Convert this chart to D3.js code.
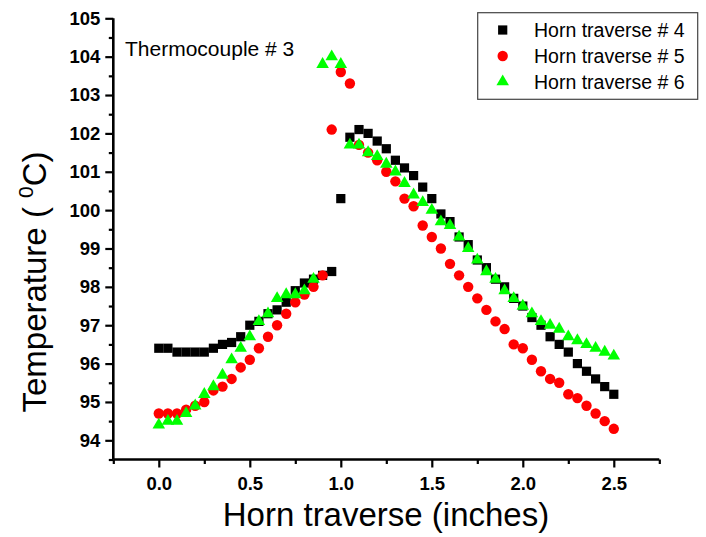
<!DOCTYPE html>
<html>
<head>
<meta charset="utf-8">
<script src="https://cdn.jsdelivr.net/npm/d3@7"></script>
<style>
  html, body { margin: 0; padding: 0; background: #fff; }
  svg { display: block; }
  text { font-family: Arial, "Liberation Sans", sans-serif; }
</style>
</head>
<body>
<svg id="chart" width="706" height="537"></svg>
<script>
// Horn position along the traverse (inches)
const positions = [
  0.00, 0.05, 0.10, 0.15, 0.20, 0.25, 0.30, 0.35, 0.40, 0.45,
  0.50, 0.55, 0.60, 0.65, 0.70, 0.75, 0.80, 0.85, 0.90, 0.95,
  1.00, 1.05, 1.10, 1.15, 1.20, 1.25, 1.30, 1.35, 1.40, 1.45,
  1.50, 1.55, 1.60, 1.65, 1.70, 1.75, 1.80, 1.85, 1.90, 1.95,
  2.00, 2.05, 2.10, 2.15, 2.20, 2.25, 2.30, 2.35, 2.40, 2.45,
  2.50
];

// Thermocouple #3 temperature (deg C) for each traverse
const traverse4 = [
  96.4, 96.4, 96.3, 96.3, 96.3, 96.3, 96.4, 96.5, 96.55, 96.7,
  97.0, 97.1, 97.3, 97.4, 97.6, 97.9, 98.1, 98.2, 98.3, 98.4,
  100.3, 101.9, 102.1, 102.0, 101.8, 101.6, 101.3, 101.1, 100.9, 100.6,
  100.3, 99.9, 99.7, 99.3, 99.1, 98.7, 98.5, 98.2, 98.0, 97.7,
  97.5, 97.2, 97.0, 96.7, 96.5, 96.3, 96.0, 95.8, 95.6, 95.4,
  95.2
];
const traverse5 = [
  94.7, 94.7, 94.7, 94.8, 94.9, 95.0, 95.3, 95.4, 95.6, 95.9,
  96.1, 96.4, 96.7, 97.0, 97.3, 97.6, 97.8, 98.0, 98.3, 102.1,
  103.6, 103.3, 101.7, 101.5, 101.3, 101.0, 100.75, 100.3, 100.1, 99.6,
  99.3, 99.0, 98.6, 98.3, 98.0, 97.7, 97.4, 97.1, 96.9, 96.5,
  96.4, 96.1, 95.8, 95.6, 95.5, 95.2, 95.1, 94.9, 94.7, 94.5,
  94.3
];
const traverse6 = [
  94.4, 94.5, 94.5, 94.7, 94.9, 95.2, 95.4, 95.7, 96.1, 96.4,
  96.7, 97.1, 97.3, 97.7, 97.8, 97.8, 97.9, 98.2, 103.8, 104.0,
  103.8, 101.7, 101.7, 101.5, 101.4, 101.2, 101.0, 100.7, 100.4, 100.2,
  100.0, 99.7, 99.6, 99.3, 99.0, 98.7, 98.4, 98.2, 97.9, 97.7,
  97.5, 97.3, 97.1, 97.0, 96.9, 96.7, 96.6, 96.5, 96.4, 96.3,
  96.2
];

const seriesNames = ["Horn traverse # 4", "Horn traverse # 5", "Horn traverse # 6"];
const xTickValues = [0.0, 0.5, 1.0, 1.5, 2.0, 2.5];
const yTickValues = [94, 95, 96, 97, 98, 99, 100, 101, 102, 103, 104, 105];
const annotation = "Thermocouple # 3";

const svg = d3.select("#chart");

const x = d3.scaleLinear().domain([-0.25, 2.75]).range([113.3, 659.3]);
const y = d3.scaleLinear().domain([93.5, 105]).range([459.5, 18.3]);

// minor ticks every 0.25 in and 0.5 deg
const xMinor = d3.range(-0.25, 2.76, 0.25).filter(v => !xTickValues.some(t => Math.abs(t - v) < 1e-6));
const yMinor = d3.range(93.5, 105.01, 0.5).filter(v => !yTickValues.some(t => Math.abs(t - v) < 1e-6));

const axisG = svg.append("g");

// bottom axis
const xAxisG = axisG.append("g").attr("transform", `translate(0,${y.range()[0]})`);
xAxisG.call(d3.axisBottom(x).tickValues(xMinor).tickSize(4.5).tickFormat(""));
xAxisG.call(g => g.select(".domain").remove());
const xMajorG = axisG.append("g").attr("transform", `translate(0,${y.range()[0]})`)
  .call(d3.axisBottom(x).tickValues(xTickValues).tickSize(8).tickPadding(9).tickFormat(d3.format(".1f")));
xMajorG.select(".domain").attr("d", `M${x.range()[0]},0H${x.range()[1]}`);

// left axis
const yAxisG = axisG.append("g").attr("transform", `translate(${x.range()[0]},0)`);
yAxisG.call(d3.axisLeft(y).tickValues(yMinor).tickSize(4.5).tickFormat(""));
yAxisG.call(g => g.select(".domain").remove());
const yMajorG = axisG.append("g").attr("transform", `translate(${x.range()[0]},0)`)
  .call(d3.axisLeft(y).tickValues(yTickValues).tickSize(8).tickPadding(5).tickFormat(d3.format("d")));
yMajorG.select(".domain").attr("d", `M0,${y.range()[0]}V${y.range()[1]}`);

axisG.selectAll(".domain").attr("stroke", "#000").attr("stroke-width", 2.6);
axisG.selectAll(".tick line").attr("stroke", "#000").attr("stroke-width", 2.2);
axisG.selectAll(".tick text")
  .attr("fill", "#000")
  .style("font-family", "Arial, 'Liberation Sans', sans-serif")
  .style("font-size", "18.5px")
  .style("font-weight", "bold");

// axis titles
svg.append("text")
  .attr("x", 386).attr("y", 526)
  .attr("text-anchor", "middle")
  .style("font-size", "33px")
  .text("Horn traverse (inches)");

const yTitle = svg.append("text")
  .attr("transform", "translate(46,282) rotate(-90)")
  .attr("text-anchor", "middle")
  .style("font-size", "33px");
yTitle.append("tspan").text("Temperature ( ");
yTitle.append("tspan").attr("dy", -13).style("font-size", "21px").text("0");
yTitle.append("tspan").attr("dy", 13).text("C)");

// annotation
svg.append("text")
  .attr("x", 125).attr("y", 56)
  .style("font-size", "21px")
  .text(annotation);

// markers
const markerStyles = [
  { data: traverse4, symbol: d3.symbolSquare, size: 85, fill: "#000000" },
  { data: traverse5, symbol: d3.symbolCircle, size: 85, fill: "#ff0000" },
  { data: traverse6, symbol: d3.symbolTriangle, size: 68, fill: "#00ff00" }
];

markerStyles.forEach(s => {
  const gen = d3.symbol().type(s.symbol).size(s.size);
  svg.append("g")
    .selectAll("path")
    .data(positions.map((p, i) => [p, s.data[i]]))
    .join("path")
    .attr("d", gen)
    .attr("transform", d => `translate(${x(d[0])},${y(d[1])})`)
    .attr("fill", s.fill);
});

// legend
const legend = svg.append("g");
legend.append("rect")
  .attr("x", 477.7).attr("y", 12.7)
  .attr("width", 220).attr("height", 86.6)
  .attr("fill", "#fff")
  .attr("stroke", "#444")
  .attr("stroke-width", 1.2);
const rowY = [30, 56, 81.7];
markerStyles.forEach((s, i) => {
  legend.append("path")
    .attr("d", d3.symbol().type(s.symbol).size(s.size)())
    .attr("transform", `translate(502.7,${rowY[i]})`)
    .attr("fill", s.fill);
  legend.append("text")
    .attr("x", 534).attr("y", rowY[i] + 7)
    .style("font-size", "19.5px")
    .text(seriesNames[i]);
});
</script>
</body>
</html>
